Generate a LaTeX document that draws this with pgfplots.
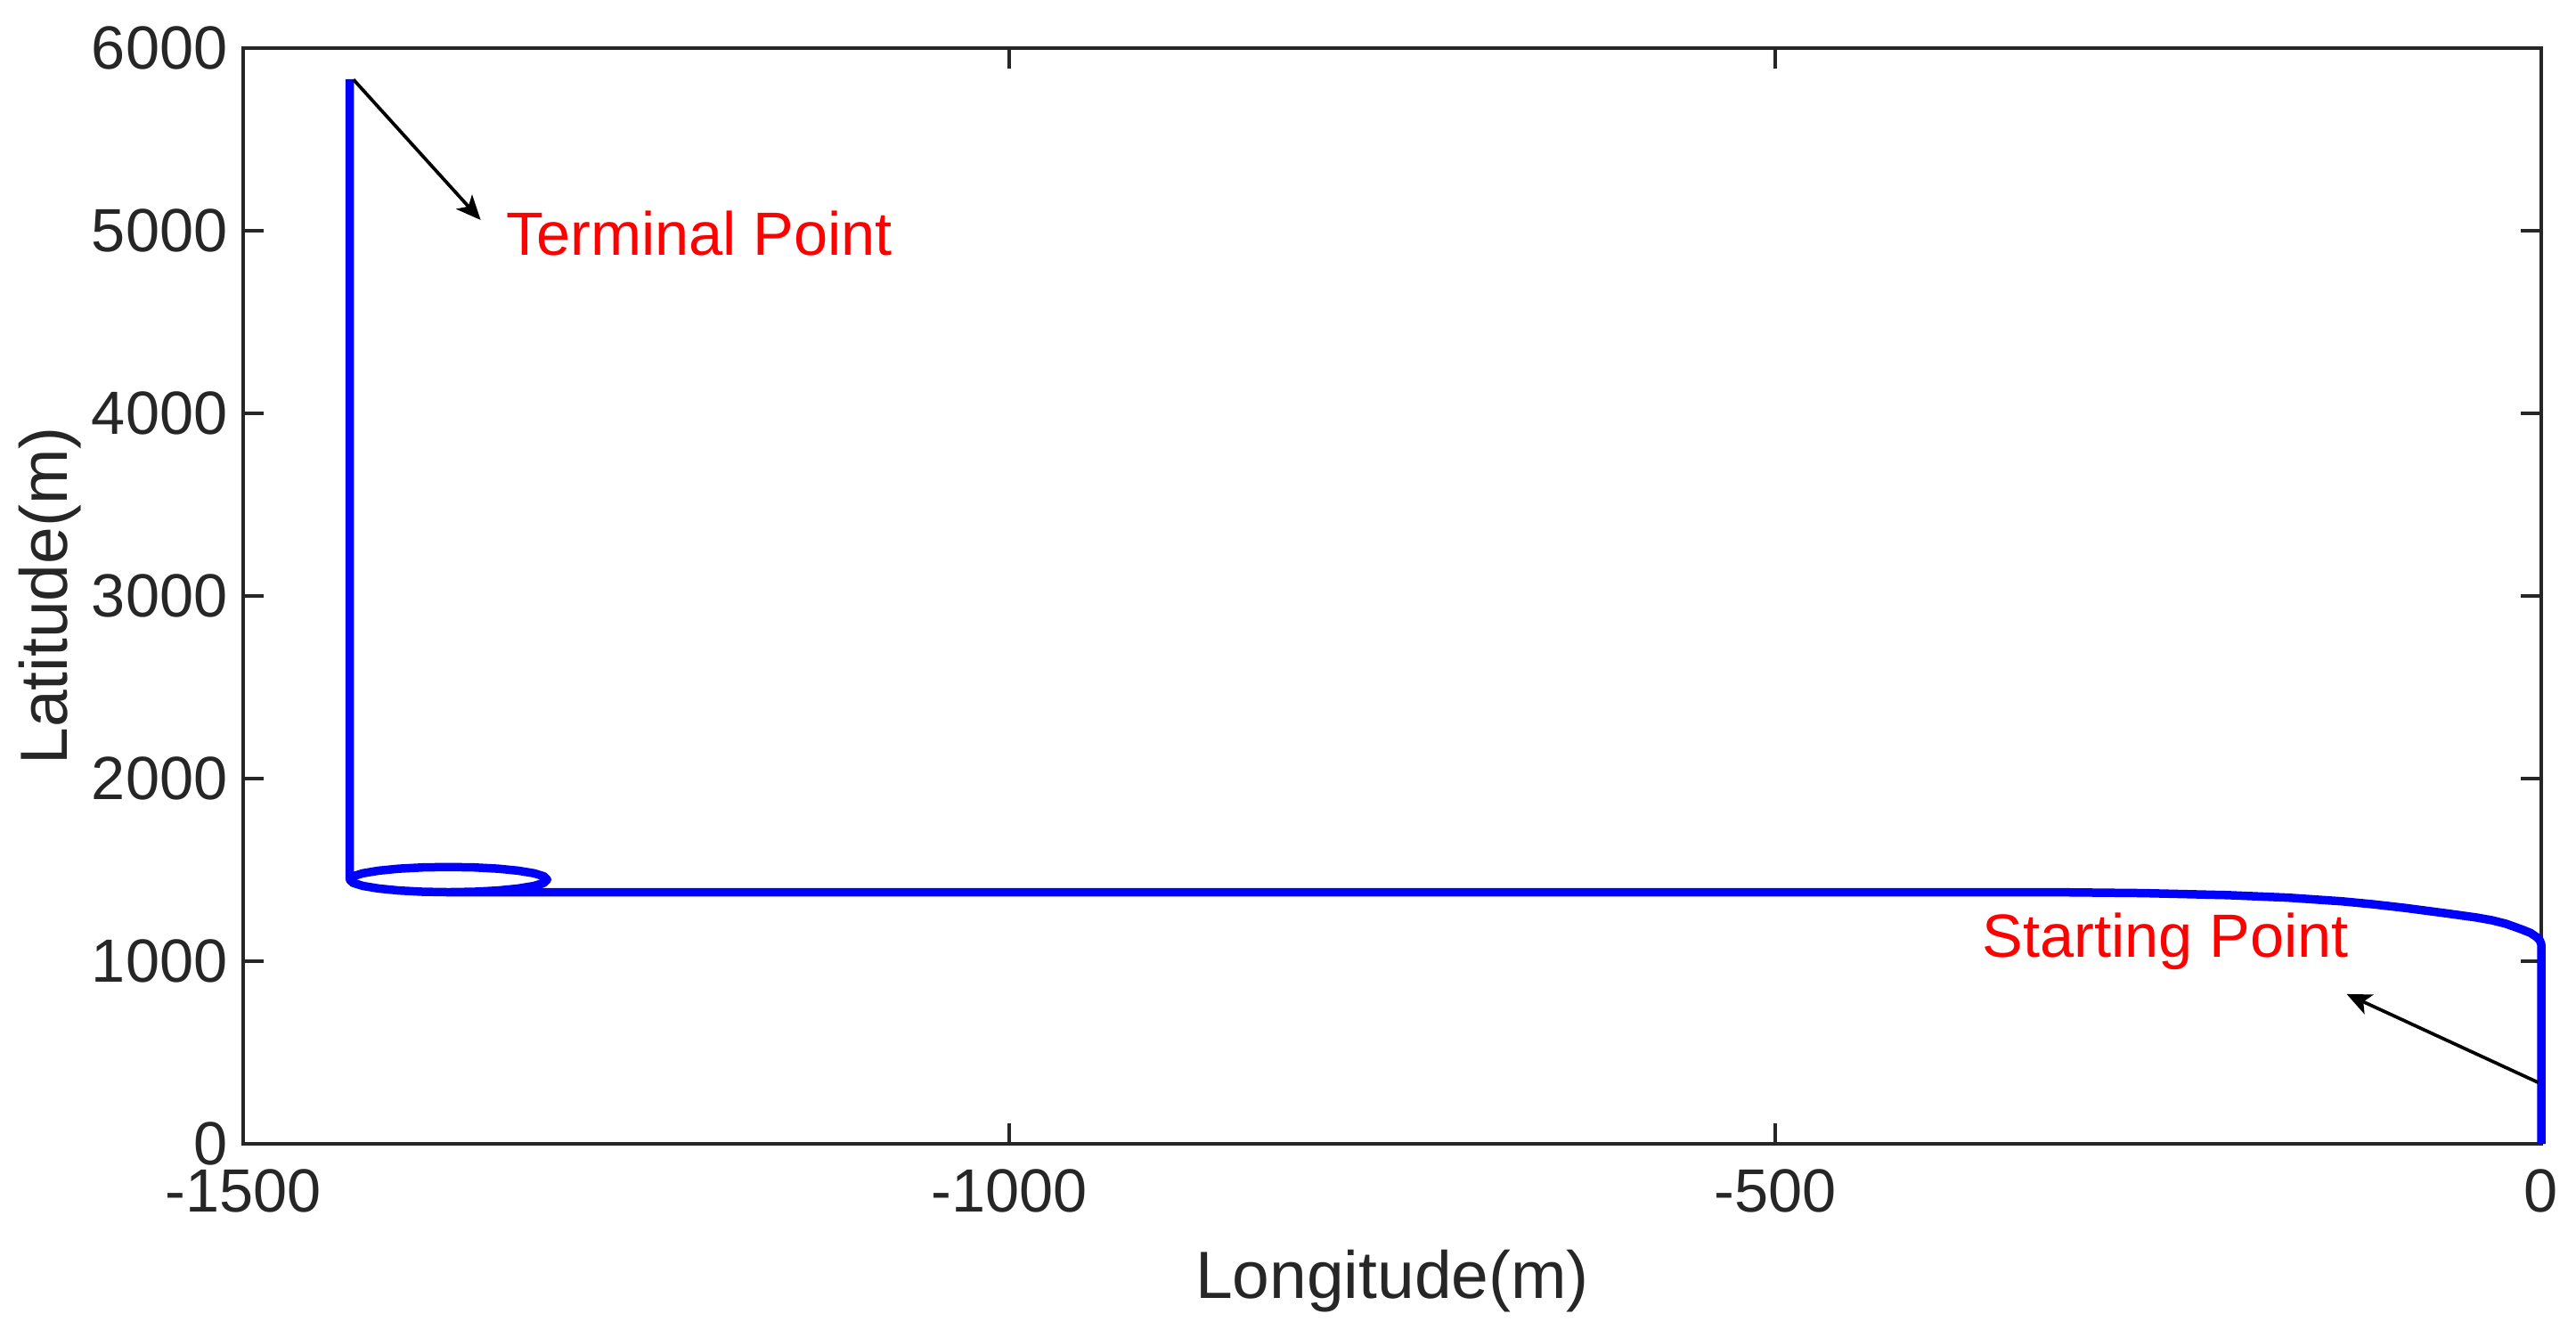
\documentclass[border=0pt]{standalone}
\usepackage{fontspec}
\setmainfont{Liberation Sans}
\usepackage{pgfplots}
\pgfplotsset{compat=1.18}
\usetikzlibrary{arrows.meta}
\definecolor{axgray}{RGB}{38,38,38}
\definecolor{trackblue}{RGB}{0,0,255}
\definecolor{labelred}{RGB}{255,0,0}
\tikzset{
    annot/.style={line width=0.75pt, black, -{Stealth[length=5.5pt,width=4.8pt,inset=1.4pt]}},
    annotext/.style={text=labelred, font=\fontsize{13.7}{16}\selectfont, inner sep=0pt}
}

\begin{document}
\begin{tikzpicture}
\useasboundingbox (-54.6pt,-41.6pt) rectangle (523.8pt,256.8pt);
\begin{axis}[
    scale only axis,
    width=516pt, height=246pt,
    xmin=-1500, xmax=0, ymin=0, ymax=6000,
    xtick={-1500,-1000,-500,0},
    ytick={0,1000,2000,3000,4000,5000,6000},
    tick align=inside,
    major tick length=4.6pt,
    axis line style={axgray, line width=0.65pt},
    every tick/.style={axgray, line width=0.65pt},
    tick label style={font=\fontsize{13.7}{16}\selectfont, text=axgray},
    xticklabel style={yshift=-2.2pt},
    /pgf/number format/assume math mode=true,
    /pgf/number format/1000 sep={},
    scaled ticks=false,
    xlabel={Longitude(m)}, ylabel={Latitude(m)},
    label style={font=\fontsize{15}{18}\selectfont, text=axgray},
    xlabel style={at={(axis description cs:0.5,0)}, anchor=base, yshift=-34.6pt},
    ylabel style={at={(axis description cs:0,0.5)}, anchor=base, yshift=39.4pt},
    clip=false,
]
% vehicle track
\addplot[trackblue, line width=1.9pt, line join=round] coordinates {
    (0,0) (0,1093) (-1,1115) (-3,1132) (-7,1155) (-13,1175) (-23,1205)
    (-32,1224) (-42,1239) (-60,1260) (-89,1292) (-110,1312) (-130,1328)
    (-165,1348) (-205,1362) (-260,1373) (-320,1378) (-1366,1378)
    (-1382.7,1380.3) (-1398.3,1387.2) (-1411.6,1398.2) (-1421.9,1412.5)
    (-1428.3,1429.1) (-1430.5,1447) (-1428.3,1464.9) (-1421.9,1481.5)
    (-1411.6,1495.8) (-1398.3,1506.8) (-1382.7,1513.7) (-1366,1516)
    (-1349.3,1513.7) (-1333.7,1506.8) (-1320.4,1495.8) (-1310.1,1481.5)
    (-1303.7,1464.9) (-1301.5,1447) (-1303.7,1429.1) (-1310.1,1412.5)
    (-1320.4,1398.2) (-1333.7,1387.2) (-1349.3,1380.3) (-1366,1378)
    (-1382.7,1380.3) (-1398.3,1387.2) (-1411.6,1398.2) (-1421.9,1412.5)
    (-1428.3,1429.1) (-1430.5,1447) (-1430.5,5830)
};
% annotations
\draw[annot] (axis cs:-1428,5828) -- (axis cs:-1345,5059);
\node[annotext, anchor=base west] at (axis cs:-1329,4868) {Terminal Point};
\draw[annot] (axis cs:-2,336) -- (axis cs:-127,820);
\node[annotext, anchor=base east] at (axis cs:-125,1024) {Starting Point};
\end{axis}
\end{tikzpicture}
\end{document}
